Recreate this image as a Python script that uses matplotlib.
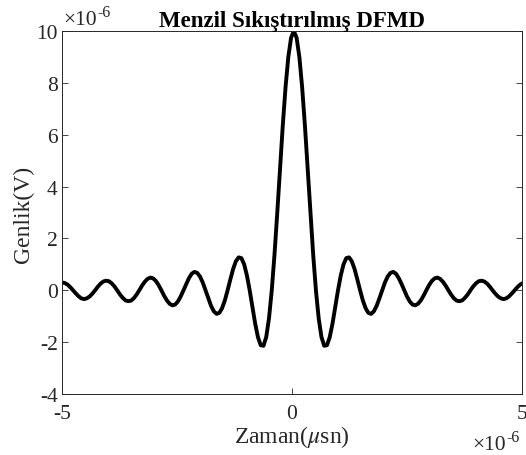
import numpy as np
import matplotlib
matplotlib.use('Agg')
import matplotlib.pyplot as plt

plt.rcParams['font.family'] = ['Liberation Serif', 'DejaVu Serif']
plt.rcParams['mathtext.fontset'] = 'stix'
plt.rcParams['axes.unicode_minus'] = False

# sample times in microseconds (regular 0.06 us grid, peak sits at 0.04 us)
t_us = np.arange(-5.0, 5.03, 0.06)

# compressed pulse amplitude, in units of 1e-6 V
amp = [
    0.30, 0.28, 0.22, 0.12, 0.00, -0.12, -0.23, -0.31,
    -0.34, -0.31, -0.24, -0.13, 0.00, 0.14, 0.26, 0.34,
    0.37, 0.35, 0.27, 0.15, 0.00, -0.16, -0.29, -0.39,
    -0.42, -0.40, -0.31, -0.17, 0.00, 0.18, 0.33, 0.44,
    0.49, 0.46, 0.36, 0.20, 0.00, -0.21, -0.39, -0.52,
    -0.58, -0.55, -0.43, -0.24, 0.00, 0.25, 0.47, 0.64,
    0.71, 0.67, 0.53, 0.30, 0.00, -0.31, -0.60, -0.81,
    -0.91, -0.87, -0.69, -0.39, 0.00, 0.42, 0.82, 1.12,
    1.27, 1.24, 1.00, 0.57, 0.00, -0.65, -1.29, -1.81,
    -2.12, -2.14, -1.80, -1.08, 0.00, 1.39, 3.00, 4.70,
    6.37, 7.84, 9.00, 9.74,
    10.00,
    9.74, 9.00, 7.84, 6.37, 4.70, 3.00, 1.39, 0.00,
    -1.08, -1.80, -2.14, -2.12, -1.81, -1.29, -0.65, 0.00,
    0.57, 1.00, 1.24, 1.27, 1.12, 0.82, 0.42, 0.00,
    -0.39, -0.69, -0.87, -0.91, -0.81, -0.60, -0.31, 0.00,
    0.30, 0.53, 0.67, 0.71, 0.64, 0.47, 0.25, 0.00,
    -0.24, -0.43, -0.55, -0.58, -0.52, -0.39, -0.21, 0.00,
    0.20, 0.36, 0.46, 0.49, 0.44, 0.33, 0.18, 0.00,
    -0.17, -0.31, -0.40, -0.42, -0.39, -0.29, -0.16, 0.00,
    0.15, 0.27, 0.35, 0.37, 0.34, 0.26, 0.14, 0.00,
    -0.13, -0.24, -0.31, -0.34, -0.31, -0.23, -0.12, 0.00,
    0.12, 0.22, 0.28,
]

x_ticks = [-5, 0, 5]
y_ticks = [-4, -2, 0, 2, 4, 6, 8, 10]

W, H = 526, 456
fig = plt.figure(figsize=(W / 100, H / 100), dpi=100)
ax = fig.add_axes([62 / W, 61 / H, 460 / W, 363 / H])

ax.plot(t_us[:len(amp)], amp, color='black', linewidth=2.8)

ax.set_xlim(-5, 5)
ax.set_ylim(-4, 10)
ax.set_xticks(x_ticks)
ax.set_yticks(y_ticks)
ax.tick_params(direction='in', length=4, width=0.6, top=True, right=True,
               labelsize=15.5, colors='#262626')
ax.tick_params(axis='x', pad=7)
ax.tick_params(axis='y', pad=3)
for sp in ax.spines.values():
    sp.set_linewidth(0.7)
    sp.set_color('#262626')

fig.text(292 / W, (H - 27) / H, 'Menzil Sıkıştırılmış DFMD', fontsize=16.5,
         fontweight='bold', ha='center', va='baseline')
fig.text(292 / W, (H - 437) / H, 'Zaman($\\mu$sn)', fontsize=17,
         ha='center', va='center', color='#262626')
fig.text(23 / W, (H - 214) / H, 'Genlik(V)', fontsize=17, rotation=90,
         ha='center', va='center', color='#262626')


def exponent_label(x_px, base_px):
    # MATLAB style "x10^-6" with a plain hyphen in the exponent
    base = fig.text(x_px / W, (H - base_px) / H, '\u00d710', fontsize=15.5,
                    ha='left', va='baseline', color='#262626')
    ax.annotate('-6', xy=(1, 1), xycoords=base, xytext=(0.5, -7),
                textcoords='offset points', fontsize=11.5, color='#262626',
                ha='left', va='bottom', annotation_clip=False)


exponent_label(63, 25)
exponent_label(472, 450)

fig.savefig('out.png', dpi=100)
